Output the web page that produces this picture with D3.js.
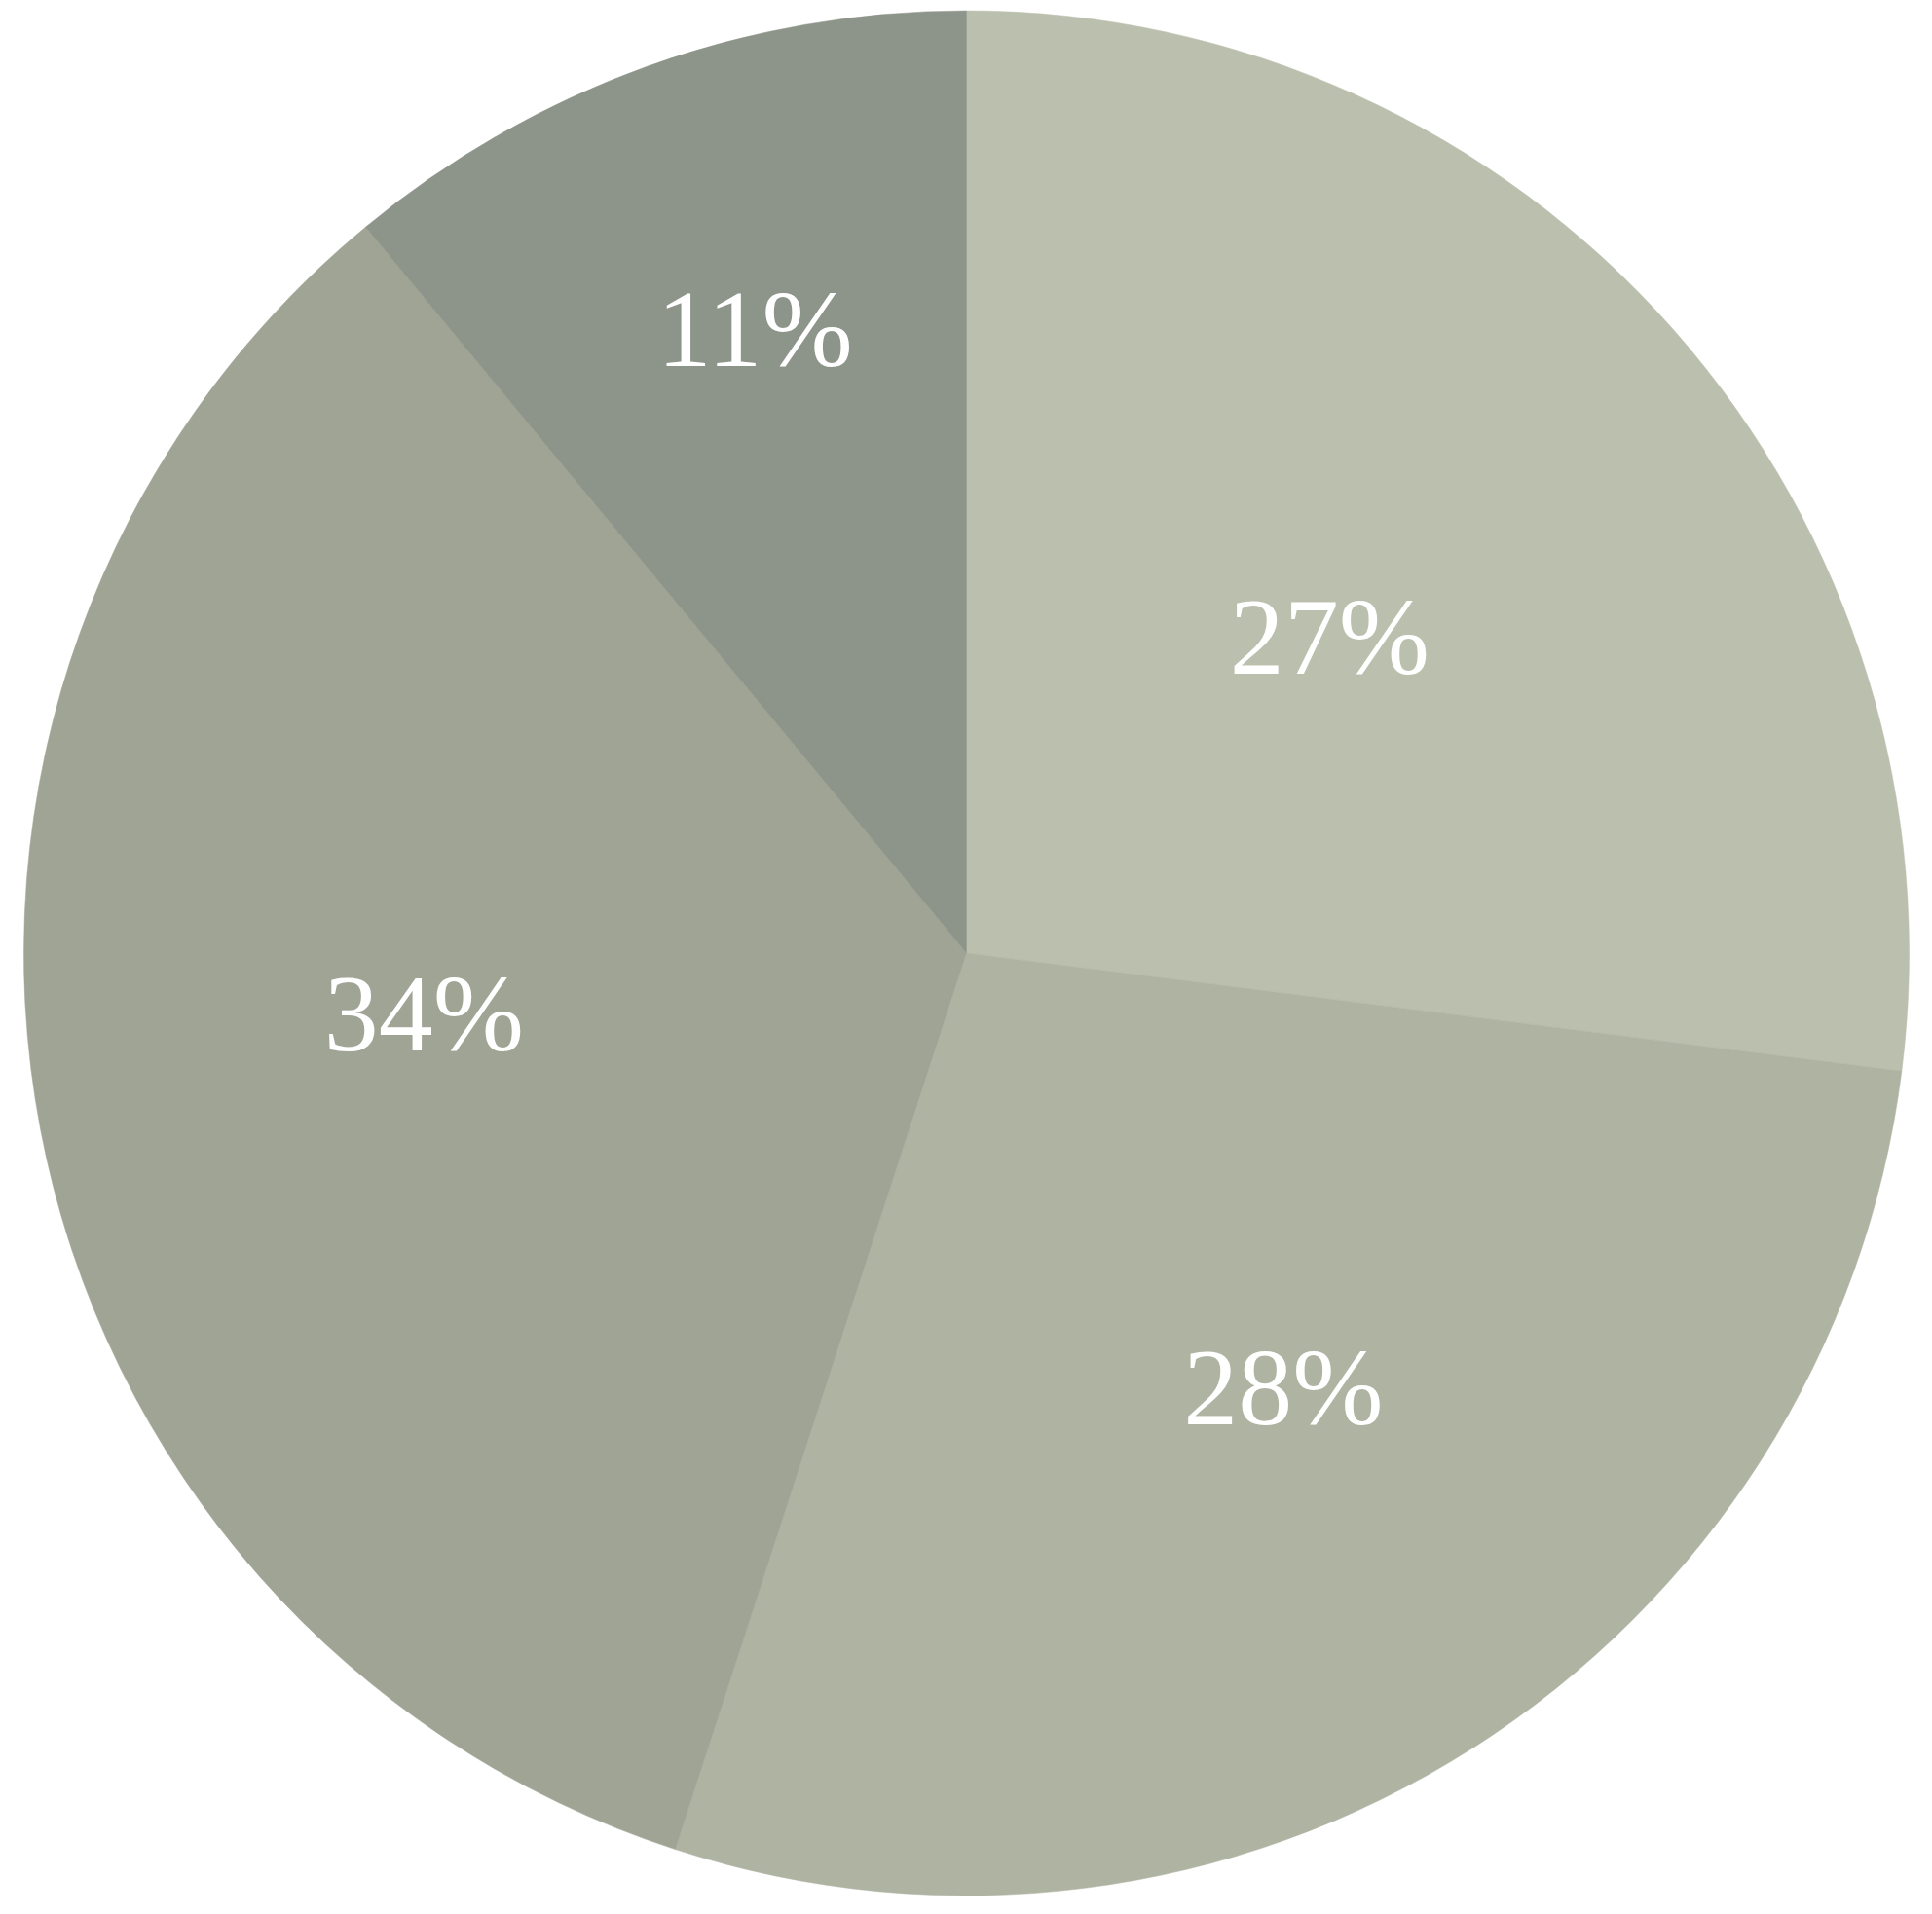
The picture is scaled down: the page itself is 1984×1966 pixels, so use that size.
<!DOCTYPE html>
<html><head><meta charset="utf-8">
<script src="https://cdn.jsdelivr.net/npm/d3@7"></script>
<style>html,body{margin:0;padding:0;background:#fff;}svg{display:block;}</style>
</head><body>
<svg id="chart" width="1984" height="1966"></svg>
<script>
// Data
const categories = ["A", "B", "C", "D"];
const values = [27, 28, 34, 11];
const labels = ["27%", "28%", "34%", "11%"];
const colors = ["#BBBFAD", "#AFB3A2", "#A0A495", "#8D9489"];

// Layout
const W = 1984, H = 1966;
const cx = 992.5, cy = 979, R = 968;
const labelRadiusFrac = [0.512, 0.569, 0.579, 0.70];
const labelAngleShiftDeg = [0.2, -3.8, 4.6, 1.1];
const fontSize = 112;

const svg = d3.select("#chart");
const g = svg.append("g").attr("transform", `translate(${cx},${cy})`);

const pie = d3.pie().value(d => d.v).sort(null);
const arcs = pie(categories.map((c, i) => ({c, v: values[i], i})));
const arc = d3.arc().innerRadius(0).outerRadius(R);
const color = d3.scaleOrdinal().domain(categories).range(colors);

g.selectAll("path.slice").data(arcs).enter().append("path")
  .attr("class", "slice")
  .attr("d", arc)
  .attr("fill", d => color(d.data.c))
  .attr("stroke", d => color(d.data.c))
  .attr("stroke-width", 0.5);

g.selectAll("text.lbl").data(arcs).enter().append("text")
  .attr("class", "lbl")
  .attr("transform", d => {
    const i = d.data.i;
    const a = (d.startAngle + d.endAngle) / 2 + labelAngleShiftDeg[i] * Math.PI / 180;
    const r = R * labelRadiusFrac[i];
    return `translate(${r * Math.sin(a)},${-r * Math.cos(a)})`;
  })
  .attr("text-anchor", "middle")
  .attr("dy", "0.35em")
  .attr("fill", "#ffffff")
  .attr("font-family", "'Liberation Serif', 'DejaVu Serif', serif")
  .attr("font-size", fontSize)
  .text(d => labels[d.data.i]);
</script>
</body></html>
